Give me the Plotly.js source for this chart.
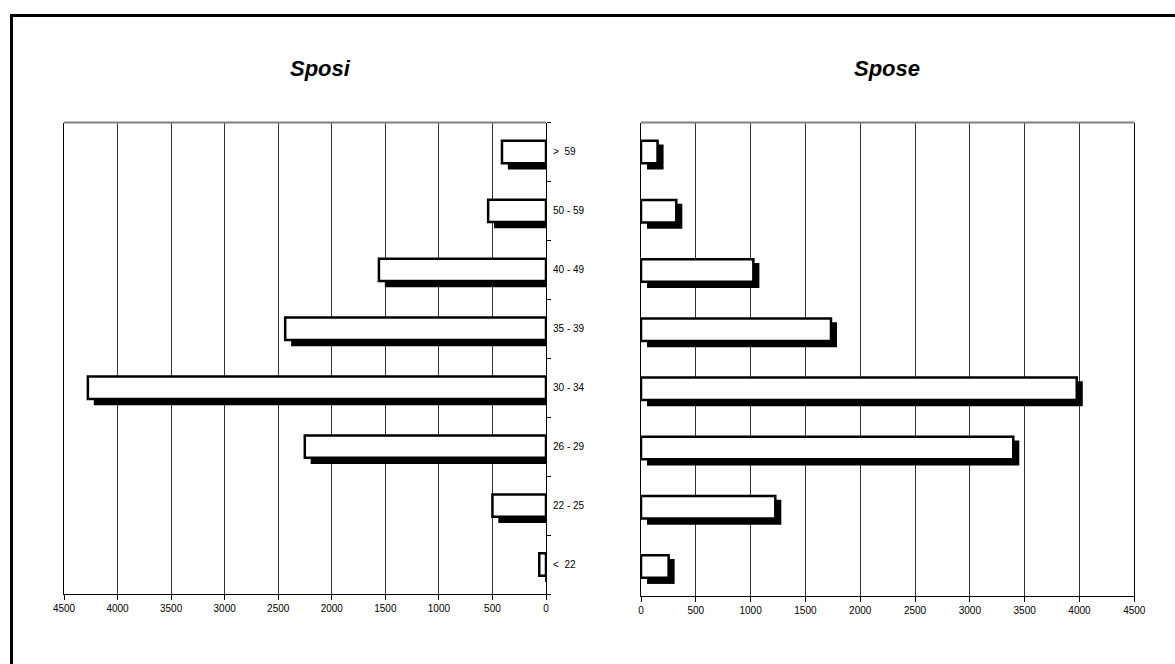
<!DOCTYPE html>
<html>
<head>
<meta charset="utf-8">
<script src="https://cdn.plot.ly/plotly-3.0.1.min.js"></script>
<style>
  html, body { margin: 0; padding: 0; background: #fff; }
  #chart { width: 1175px; height: 664px; }
</style>
</head>
<body>
<div id="chart"></div>
<script>
// Age classes, bottom to top
const categories = ['<\u00a0 22', '22 - 25', '26 - 29', '30 - 34', '35 - 39', '40 - 49', '50 - 59', '>\u00a0 59'];
// Grooms (Sposi)
const sposi = [63, 500, 2252, 4277, 2435, 1560, 540, 411];
// Brides (Spose)
const spose = [252, 1225, 3396, 3975, 1733, 1025, 322, 151];
const titles = ['Sposi', 'Spose'];
const tickVals = [0, 500, 1000, 1500, 2000, 2500, 3000, 3500, 4000, 4500];

// style constants (shadow offset expressed in axis units ~5px)
const SHIFT = 55;
const BAR_W = 0.38;
const SH_W = 0.4225;
const SH_OFF = -0.296;

const W = 1175, H = 664;
const font = 'Liberation Sans, Arial, sans-serif';

const shadowL = {
  type: 'bar', orientation: 'h', xaxis: 'x', yaxis: 'y',
  y: categories, x: sposi.map(v => Math.max(v - SHIFT, 0)), base: 0,
  width: SH_W, offset: SH_OFF,
  marker: { color: '#000', line: { width: 0 } }, hoverinfo: 'skip'
};
const mainL = {
  type: 'bar', orientation: 'h', xaxis: 'x', yaxis: 'y',
  y: categories, x: sposi, width: BAR_W, offset: -BAR_W / 2,
  marker: { color: '#fff', line: { color: '#000', width: 2.5 } }, hoverinfo: 'skip'
};
const shadowR = {
  type: 'bar', orientation: 'h', xaxis: 'x2', yaxis: 'y2',
  y: categories, x: spose, base: SHIFT,
  width: SH_W, offset: SH_OFF,
  marker: { color: '#000', line: { width: 0 } }, hoverinfo: 'skip'
};
const mainR = {
  type: 'bar', orientation: 'h', xaxis: 'x2', yaxis: 'y2',
  y: categories, x: spose, width: BAR_W, offset: -BAR_W / 2,
  marker: { color: '#fff', line: { color: '#000', width: 2.5 } }, hoverinfo: 'skip'
};

const xCommon = {
  tickvals: tickVals, ticktext: tickVals.map(String),
  showgrid: true, gridcolor: '#333', gridwidth: 1,
  zeroline: false, showline: true, linecolor: '#000', linewidth: 1,
  ticks: 'outside', ticklen: 5, tickcolor: '#000', tickwidth: 1,
  tickfont: { family: font, size: 10, color: '#000' }, fixedrange: true
};

const layout = {
  width: W, height: H,
  margin: { l: 0, r: 0, t: 0, b: 0 },
  paper_bgcolor: '#fff', plot_bgcolor: 'rgba(0,0,0,0)',
  showlegend: false, barmode: 'overlay',
  xaxis: Object.assign({}, xCommon, { domain: [64 / W, 546 / W], range: [4500, 0], anchor: 'y' }),
  yaxis: {
    domain: [1 - 594 / H, 1 - 122.5 / H], anchor: 'x', side: 'right',
    type: 'category', categoryorder: 'array', categoryarray: categories, range: [-0.5, 7.5],
    showgrid: false, zeroline: false, showline: true, mirror: true, linecolor: '#000', linewidth: 1,
    ticks: 'outside', tickson: 'boundaries', ticklen: 4, tickcolor: '#000',
    ticklabelstandoff: 4,
    tickfont: { family: font, size: 10, color: '#000' }, fixedrange: true
  },
  xaxis2: Object.assign({}, xCommon, { domain: [641 / W, 1134.3 / W], range: [0, 4500], anchor: 'y2' }),
  yaxis2: {
    domain: [1 - 596 / H, 1 - 122.5 / H], anchor: 'x2',
    type: 'category', categoryorder: 'array', categoryarray: categories, range: [-0.5, 7.5],
    showgrid: false, zeroline: false, showline: true, mirror: true, linecolor: '#000', linewidth: 1,
    ticks: '', showticklabels: false, fixedrange: true
  },
  annotations: [
    { text: '<b><i>' + titles[0] + '</i></b>', xref: 'paper', yref: 'paper', x: 320 / W, y: 1 - 69 / H,
      xanchor: 'center', yanchor: 'middle', showarrow: false, font: { family: font, size: 22, color: '#000' } },
    { text: '<b><i>' + titles[1] + '</i></b>', xref: 'paper', yref: 'paper', x: 887 / W, y: 1 - 69 / H,
      xanchor: 'center', yanchor: 'middle', showarrow: false, font: { family: font, size: 22, color: '#000' } }
  ],
  shapes: [
    // plot-area top borders (gray)
    { type: 'line', xref: 'x domain', yref: 'y domain', x0: 0, x1: 1, y0: 1, y1: 1, line: { color: '#808080', width: 2 } },
    { type: 'line', xref: 'x2 domain', yref: 'y2 domain', x0: 0, x1: 1, y0: 1, y1: 1, line: { color: '#808080', width: 2 } },
    // outer frame (left and top edges)
    { type: 'line', xref: 'paper', yref: 'paper', x0: 11.5 / W, x1: 11.5 / W, y0: -0.1, y1: 1 - 14 / H, line: { color: '#000', width: 3 } },
    { type: 'line', xref: 'paper', yref: 'paper', x0: 10 / W, x1: 1.1, y0: 1 - 15.5 / H, y1: 1 - 15.5 / H, line: { color: '#000', width: 3 } }
  ]
};

Plotly.newPlot('chart', [shadowL, mainL, shadowR, mainR], layout, { staticPlot: true, displayModeBar: false });
</script>
</body>
</html>
